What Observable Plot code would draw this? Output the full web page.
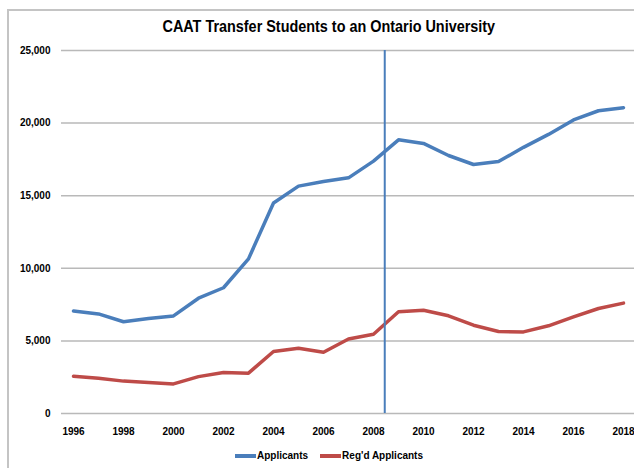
<!DOCTYPE html>
<html>
<head>
<meta charset="utf-8">
<script src="https://cdn.jsdelivr.net/npm/d3@7"></script>
<script src="https://cdn.jsdelivr.net/npm/@observablehq/plot@0.6"></script>
<style>
  html, body { margin: 0; padding: 0; background: #fff; }
  #wrap { position: relative; width: 634px; height: 468px; overflow: hidden; font-family: "Liberation Sans", Arial, sans-serif; }
  #frame { position: absolute; left: 7px; top: 9px; width: 700px; height: 500px; border-left: 2px solid #c4c4c4; border-top: 2px solid #c4c4c4; box-sizing: border-box; }
  #title { position: absolute; left: 0; top: 18px; width: 658px; text-align: center; font-family: "Liberation Sans", Arial, sans-serif; font-weight: bold; font-size: 16px; color: #000; }
  #title span { display: inline-block; transform: scaleX(0.9); transform-origin: center; }
  #chart { position: absolute; left: 0; top: 40px; }
  #legend { position: absolute; left: 0; top: 450px; width: 658px; display: flex; justify-content: center; gap: 12px; font-weight: bold; font-size: 10px; color: #000; }
  .item { display: flex; align-items: center; }
  .sw { width: 21px; height: 4px; margin-right: 1px; }
</style>
</head>
<body>
<div id="wrap">
  <div id="frame"></div>
  <div id="title"><span>CAAT Transfer Students to an Ontario University</span></div>
  <div id="chart"></div>
  <div id="legend"></div>
</div>
<script>
const years = [1996,1997,1998,1999,2000,2001,2002,2003,2004,2005,2006,2007,2008,2009,2010,2011,2012,2013,2014,2015,2016,2017,2018];
const applicants = [7060,6860,6320,6540,6720,7940,8660,10650,14500,15660,15980,16230,17380,18850,18600,17770,17150,17350,18330,19220,20220,20850,21060];
const regdApplicants = [2570,2420,2230,2140,2040,2540,2820,2780,4270,4500,4220,5130,5460,7010,7110,6730,6080,5650,5620,6040,6650,7230,7600];
const seriesNames = ["Applicants", "Reg'd Applicants"];
const seriesColors = ["#4a7ebb", "#be4b48"];
const markerYear = [2008.45];
const yTicks = [0,5000,10000,15000,20000,25000];
const xTicks = [1996,1998,2000,2002,2004,2006,2008,2010,2012,2014,2016,2018];

const data = [];
years.forEach((y, i) => {
  data.push({year: y, value: applicants[i], series: seriesNames[0]});
  data.push({year: y, value: regdApplicants[i], series: seriesNames[1]});
});

const chart = Plot.plot({
  width: 634,
  height: 403,
  marginLeft: 61,
  marginRight: 0,
  marginTop: 10,
  marginBottom: 30,
  style: {fontFamily: "'Liberation Sans', Arial, sans-serif", fontSize: "10px", fontWeight: "bold", color: "#000", background: "transparent"},
  x: {domain: [1996, 2018], range: [73, 623]},
  y: {domain: [0, 25000]},
  color: {domain: seriesNames, range: seriesColors},
  marks: [
    Plot.gridY(yTicks, {stroke: "#b9b9b9", strokeOpacity: 1, strokeWidth: 1.5}),
    Plot.axisY({ticks: yTicks, tickSize: 0, tickPadding: 11, tickFormat: d3.format(","), label: null, fill: "#000"}),
    Plot.axisX({ticks: xTicks, tickSize: 0, tickPadding: 14, tickFormat: d => String(d), label: null, fill: "#000"}),
    Plot.line(data, {x: "year", y: "value", z: "series", stroke: "series", strokeWidth: 3.5, strokeLinejoin: "round", strokeLinecap: "round"}),
    Plot.ruleX(markerYear, {y1: 0, y2: 25000, stroke: "#4a7ebb", strokeWidth: 2})
  ]
});
document.getElementById("chart").appendChild(chart);

const legend = document.getElementById("legend");
seriesNames.forEach((n, i) => {
  const it = document.createElement("div");
  it.className = "item";
  const sw = document.createElement("div");
  sw.className = "sw";
  sw.style.background = seriesColors[i];
  const t = document.createElement("span");
  t.textContent = n;
  it.appendChild(sw); it.appendChild(t);
  legend.appendChild(it);
});
</script>
</body>
</html>
